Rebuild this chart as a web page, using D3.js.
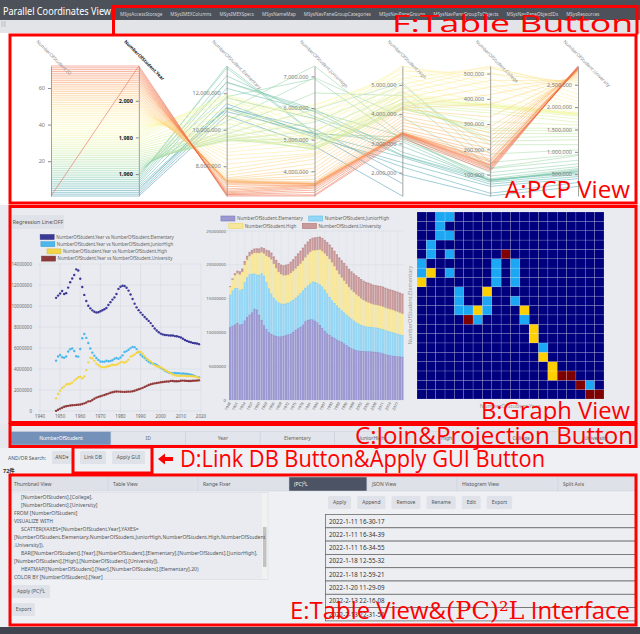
<!DOCTYPE html>
<html>
<head>
<meta charset="utf-8">
<title>Parallel Coordinates View</title>
<script src="https://cdn.jsdelivr.net/npm/d3@7/dist/d3.min.js"></script>
<style>
  body { margin: 0; background: #eef0f4; }
  svg { display: block; font-family: "Noto Sans", "Noto Sans CJK JP", sans-serif; }
</style>
</head>
<body>
<svg id="view" width="640" height="634"></svg>
<script>
// NumberOfStudent table, one row per year (student counts in thousands)
var ids = [1,2,3,4,5,6,7,8,9,10,11,12,13,14,15,16,17,18,19,20,21,22,23,24,25,26,27,28,29,30,31,32,33,34,35,36,
  37,38,39,40,41,42,43,44,45,46,47,48,49,50,51,52,53,54,55,56,57,58,59,60,61,62,63,64,65,66,67,68,69,70,71,72];
var years = [1948,1949,1950,1951,1952,1953,1954,1955,1956,1957,1958,1959,1960,1961,1962,1963,1964,1965,1966,1967,
  1968,1969,1970,1971,1972,1973,1974,1975,1976,1977,1978,1979,1980,1981,1982,1983,1984,1985,1986,1987,
  1988,1989,1990,1991,1992,1993,1994,1995,1996,1997,1998,1999,2000,2001,2002,2003,2004,2005,2006,2007,
  2008,2009,2010,2011,2012,2013,2014,2015,2016,2017,2018,2019];
var elementary = [10775,10992,11191,11423,11148,11225,11751,12267,12616,12956,13492,13374,12591,11811,11057,10471,10030,9776,9584,9452,
  9383,9404,9493,9596,9696,9816,10089,10365,10610,10819,11146,11630,11827,11925,11901,11739,11465,11095,10665,10226,
  9873,9607,9373,9157,8947,8769,8583,8370,8105,7855,7664,7500,7366,7297,7239,7227,7201,7197,7188,7133,
  7122,7064,6993,6887,6765,6677,6600,6543,6484,6449,6428,6369];
var juniorHigh = [4793,5186,5333,5129,5076,5187,5664,5884,5963,5719,5210,5180,5900,6924,7328,6964,6476,5957,5556,5271,
  5044,4865,4717,4694,4688,4779,4735,4762,4833,4977,5048,4966,5094,5300,5623,5706,5828,5991,6106,6081,
  5897,5620,5369,5189,5037,4850,4681,4570,4528,4481,4381,4244,4104,3992,3863,3748,3664,3626,3602,3615,
  3592,3600,3559,3574,3553,3537,3504,3465,3406,3333,3252,3218];
var high = [1203,1624,1935,2194,2343,2528,2578,2592,2703,2898,3057,3216,3239,3119,3282,3896,4634,5074,4997,4776,
  4516,4352,4232,4179,4158,4210,4269,4333,4387,4381,4415,4511,4622,4682,4601,4717,4896,5178,5259,5375,
  5533,5644,5623,5455,5218,5010,4862,4725,4547,4371,4258,4212,4165,4062,3929,3810,3719,3605,3495,3407,
  3367,3347,3369,3349,3356,3320,3334,3319,3309,3280,3236,3168];
var college = [null,null,15,26,53,62,70,78,80,77,73,76,83,94,108,123,126,148,181,218,
  232,246,263,275,283,309,344,354,365,374,380,375,371,372,366,379,388,371,408,437,
  450,462,479,504,525,530,521,499,473,447,417,378,328,289,267,250,234,219,202,187,
  173,161,155,150,142,138,137,133,128,124,119,113];
var university = [12,125,225,313,399,447,492,523,547,564,580,601,626,670,730,812,917,938,1044,1160,
  1270,1345,1407,1469,1530,1597,1659,1734,1791,1839,1862,1850,1835,1822,1817,1835,1843,1849,1879,1934,
  1994,2067,2133,2205,2293,2389,2481,2547,2597,2634,2668,2701,2740,2766,2786,2804,2809,2865,2859,2829,
  2836,2845,2887,2893,2876,2868,2855,2860,2874,2891,2909,2919];

var dims = ["ID", "Year", "Elementary", "JuniorHigh", "High", "College", "University"];
var idTicks = [20, 40, 60];
var yearTicks = [1960, 1980, 2000];
var elementaryTicks = [8000000, 10000000, 12000000];
var juniorHighTicks = [4000000, 5000000, 6000000, 7000000];
var highTicks = [2000000, 3000000, 4000000, 5000000];
var collegeTicks = [100000, 200000, 300000, 400000, 500000];
var universityTicks = [500000, 1000000, 1500000, 2000000, 2500000];
var scatterXTicks = [1940, 1950, 1960, 1970, 1980, 1990, 2000, 2010, 2020];
var scatterYTicks = [0, 2000000, 4000000, 6000000, 8000000, 10000000, 12000000, 14000000];
var barYTicks = [0, 5000000, 10000000, 15000000, 20000000, 25000000];

var tableNames = ["MSysAccessStorage", "MSysIMEXColumns", "MSysIMEXSpecs", "MSysNameMap", "MSysNavPaneGroupCategories",
  "MSysNavPaneGroups", "MSysNavPaneGroupToObjects", "MSysNavPaneObjectIDs", "MSysResources"];
var joinNames = ["NumberOfStudent", "ID", "Year", "Elementary", "JuniorHigh", "High", "College", "University"];
var tabNames = ["Thumbnail View", "Table View", "Range Fixer", "(PC)²L", "JSON View", "Histogram View", "Split Axis"];
var queryLines = [
  "    [NumberOfStudent].[College],",
  "    [NumberOfStudent].[University]",
  "FROM [NumberOfStudent]",
  "VISUALIZE WITH",
  "    SCATTER(XAXES=[NumberOfStudent.Year],YAXES=",
  "[NumberOfStudent.Elementary,NumberOfStudent.JuniorHigh,NumberOfStudent.High,NumberOfStudent",
  ".University]),",
  "    BAR([NumberOfStudent].[Year],[NumberOfStudent].[Elementary],[NumberOfStudent].[JuniorHigh],",
  "[NumberOfStudent].[High],[NumberOfStudent].[University]),",
  "    HEATMAP([NumberOfStudent].[Year],[NumberOfStudent].[Elementary],20)",
  "COLOR BY [NumberOfStudent].[Year]"
];
var actionNames = ["Apply", "Append", "Remove", "Rename", "Edit", "Export"];
var savedQueries = ["2022-1-11 16-30-17", "2022-1-11 16-34-39", "2022-1-11 16-34-55", "2022-1-18 12-55-32",
  "2022-1-18 12-59-21", "2022-1-20 11-29-09", "2022-2-13 22-16-08", "2022-2-13 22-31-56"];

var rows = years.map(function(y, i) {
  return {
    ID: ids[i], Year: y,
    Elementary: elementary[i] * 1000,
    JuniorHigh: juniorHigh[i] * 1000,
    High: high[i] * 1000,
    College: college[i] == null ? null : college[i] * 1000,
    University: university[i] * 1000
  };
});

var svg = d3.select("#view");
var red = "#ff0000";

function box(g, x, y, w, h, fill) {
  return g.append("rect").attr("x", x).attr("y", y).attr("width", w).attr("height", h).attr("fill", fill);
}
function label(g, x, y, txt, size, fill) {
  return g.append("text").attr("x", x).attr("y", y).attr("font-size", size).attr("fill", fill).text(txt);
}
function button(g, x, y, w, h, txt, size) {
  box(g, x, y, w, h, "#dfe2e9").attr("rx", 1.5);
  label(g, x + w / 2, y + h / 2 + size * 0.35, txt, size, "#555").attr("text-anchor", "middle");
}

// ---- page background
box(svg, 0, 0, 640, 634, "#eef0f4");
box(svg, 0, 0, 640, 20, "#4d5159");
box(svg, 0, 20, 640, 13, "#e3e4e7");
box(svg, 1, 21, 5, 6, "#d0d2d6");
box(svg, 0, 33, 640, 172, "#ffffff");
box(svg, 0, 205, 640, 219, "#e9ebf0");
box(svg, 0, 424, 640, 24, "#e6e8ee");
box(svg, 0, 627, 640, 7, "#3f444e");

label(svg, 3, 15, "Parallel Coordinates View", 11, "#ffffff")
  .attr("textLength", 108).attr("lengthAdjust", "spacingAndGlyphs");

var tx = 120;
tableNames.forEach(function(n) {
  var t = label(svg, tx, 16, n, 4.6, "#d6d8dc");
  tx += t.node().getComputedTextLength() + 8;
});

// ---- A: parallel coordinates
var pcp = svg.append("g");
var px = d3.scalePoint().domain(dims).range([51, 578]);
var py = {};
dims.forEach(function(d) {
  py[d] = d3.scaleLinear().domain(d3.extent(rows, function(r) { return r[d]; })).range([196, 66]);
});
var colorT = d3.scaleLinear().domain(d3.extent(years)).range([0.88, 0.18]);
function yearColor(y) { return d3.interpolateSpectral(colorT(y)); }

var pcpLine = d3.line()
  .defined(function(p) { return p[1] != null; })
  .x(function(p) { return px(p[0]); })
  .y(function(p) { return py[p[0]](p[1]); });

pcp.selectAll("path.pl").data(rows).join("path")
  .attr("class", "pl")
  .attr("d", function(r) { return pcpLine(dims.map(function(d) { return [d, r[d]]; })); })
  .attr("fill", "none")
  .attr("stroke", function(r) { return yearColor(r.Year); })
  .attr("stroke-opacity", 0.65)
  .attr("stroke-width", 0.8);

pcp.append("line")
  .attr("x1", px("ID")).attr("y1", py.ID(ids[0]))
  .attr("x2", px("Year")).attr("y2", py.Year(years[years.length - 1]))
  .attr("stroke", yearColor(years[years.length - 1])).attr("stroke-opacity", 0.7).attr("stroke-width", 0.8);

var dimTicks = [idTicks, yearTicks, elementaryTicks, juniorHighTicks, highTicks, collegeTicks, universityTicks];
dims.forEach(function(d, i) {
  var isYear = d == "Year";
  var g = pcp.append("g").attr("transform", "translate(" + px(d) + ",0)")
    .call(d3.axisLeft(py[d]).tickValues(dimTicks[i]).tickSize(3).tickSizeOuter(0).tickFormat(d3.format(",")));
  g.attr("font-family", null).attr("font-size", 5.5);
  g.select(".domain").attr("stroke", "#8c8c8c").attr("stroke-width", 0.8);
  g.selectAll(".tick line").attr("stroke", "#8c8c8c");
  g.selectAll(".tick text").attr("fill", isYear ? "#222" : "#7a7a7a").attr("font-weight", isYear ? "bold" : null);
  g.append("text")
    .attr("transform", "translate(-15,42) rotate(45)")
    .attr("font-size", 4.7)
    .attr("fill", isYear ? "#222" : "#888")
    .attr("font-weight", isYear ? "bold" : null)
    .attr("text-anchor", "start")
    .text("NumberOfStudent." + d);
});

// ---- B: scatter
var series = ["Elementary", "JuniorHigh", "High", "University"];
var scatterColors = ["#3c3895", "#4bb7ea", "#f3d54a", "#8e3a3a"];
var sg = svg.append("g");
var sx = d3.scaleLinear().domain([1940, 2020]).range([40, 201]);
var sy = d3.scaleLinear().domain([0, 14000000]).range([411, 264]);

button(sg, 12, 215, 52, 14, "Regression Line:OFF", 5.3);

sg.selectAll("line.gx").data(scatterXTicks).join("line")
  .attr("x1", sx).attr("x2", sx).attr("y1", sy(14000000)).attr("y2", sy(0) + 2)
  .attr("stroke", "#d7dae2").attr("stroke-width", 0.6);
sg.selectAll("line.gy").data(scatterYTicks).join("line")
  .attr("x1", sx(1940) - 2).attr("x2", sx(2020)).attr("y1", sy).attr("y2", sy)
  .attr("stroke", "#d7dae2").attr("stroke-width", 0.6);
sg.selectAll("text.tx").data(scatterXTicks).join("text")
  .attr("x", sx).attr("y", sy(0) + 7).attr("text-anchor", "middle")
  .attr("font-size", 4.5).attr("fill", "#666").text(function(d) { return d; });
sg.selectAll("text.ty").data(scatterYTicks).join("text")
  .attr("x", sx(1940) - 8).attr("y", function(d) { return sy(d) + 1.5; }).attr("text-anchor", "end")
  .attr("font-size", 4.5).attr("fill", "#666").text(function(d) { return d; });

series.forEach(function(s, k) {
  sg.selectAll("circle.s" + k).data(rows).join("circle")
    .attr("cx", function(r) { return sx(r.Year); })
    .attr("cy", function(r) { return sy(r[s]); })
    .attr("r", 1.2)
    .attr("fill", scatterColors[k]);
  var ly = 237 + k * 7.2;
  var lt = label(sg, 0, ly + 1.7, "NumberOfStudent.Year vs NumberOfStudent." + s, 4.4, "#666");
  var tw = lt.node().getComputedTextLength();
  var left = 107 - (tw + 16) / 2;
  lt.attr("x", left + 16);
  box(sg, left, ly - 2.5, 14, 5, scatterColors[k]).attr("stroke", d3.color(scatterColors[k]).darker(0.4)).attr("stroke-width", 0.5);
});

// ---- B: stacked bars
var barFill = ["#9c98d1", "#94d6f4", "#f6e79c", "#c89a9b"];
var barStroke = ["#7d78c0", "#62c2ee", "#f0d75c", "#b07476"];
var bg = svg.append("g");
var bx = d3.scaleBand().domain(years).range([229, 403.5]).paddingInner(0.1);
var by = d3.scaleLinear().domain([0, 25000000]).range([400, 231]);
var labelYears = years.filter(function(y, i) { return i % 3 == 0; });

bg.selectAll("line.gy").data(barYTicks).join("line")
  .attr("x1", bx.range()[0] - 2).attr("x2", bx.range()[1]).attr("y1", by).attr("y2", by)
  .attr("stroke", "#d7dae2").attr("stroke-width", 0.6);
bg.selectAll("line.gx").data(labelYears).join("line")
  .attr("x1", function(y) { return bx(y) + bx.bandwidth() / 2; })
  .attr("x2", function(y) { return bx(y) + bx.bandwidth() / 2; })
  .attr("y1", by(25000000)).attr("y2", by(0) + 2)
  .attr("stroke", "#dfe1e8").attr("stroke-width", 0.5);
bg.selectAll("text.ty").data(barYTicks).join("text")
  .attr("x", bx.range()[0] - 3).attr("y", function(d) { return by(d) + 1.5; }).attr("text-anchor", "end")
  .attr("font-size", 4.3).attr("fill", "#666").text(function(d) { return d; });

var stacked = d3.stack().keys(series)(rows);
stacked.forEach(function(layer, k) {
  bg.selectAll("rect.b" + k).data(layer).join("rect")
    .attr("x", function(p) { return bx(p.data.Year); })
    .attr("width", bx.bandwidth())
    .attr("y", function(p) { return by(p[1]); })
    .attr("height", function(p) { return by(p[0]) - by(p[1]); })
    .attr("fill", barFill[k]);
  bg.selectAll("line.bt" + k).data(layer).join("line")
    .attr("x1", function(p) { return bx(p.data.Year); })
    .attr("x2", function(p) { return bx(p.data.Year) + bx.bandwidth(); })
    .attr("y1", function(p) { return by(p[1]); }).attr("y2", function(p) { return by(p[1]); })
    .attr("stroke", barStroke[k]).attr("stroke-width", 0.6);
});
bg.selectAll("text.tx").data(labelYears).join("text")
  .attr("transform", function(y) { return "translate(" + (bx(y) + bx.bandwidth() / 2 + 1) + "," + (by(0) + 3) + ") rotate(-62)"; })
  .attr("text-anchor", "end").attr("font-size", 3.8).attr("fill", "#666").text(function(y) { return y; });

var legendRows = [[0, 1], [2, 3]];
legendRows.forEach(function(items, r) {
  var lg = bg.append("g");
  var cx = 0;
  items.forEach(function(k) {
    box(lg, cx, 0, 14, 5, barFill[k]).attr("stroke", barStroke[k]).attr("stroke-width", 0.6);
    var t = label(lg, cx + 16, 4.2, "NumberOfStudent." + series[k], 4.6, "#666");
    cx += 16 + t.node().getComputedTextLength() + 6;
  });
  lg.attr("transform", "translate(" + (305 - (cx - 6) / 2) + "," + (216 + r * 7.5) + ")");
});

// ---- B: heatmap
var nBins = 20;
var binIdx = d3.range(nBins);
var yearBin = d3.scaleLinear().domain(d3.extent(years)).range([0, nBins]);
var elemBin = d3.scaleLinear().domain(d3.extent(elementary)).range([0, nBins]);
var counts = d3.rollup(rows, function(v) { return v.length; },
  function(r) { return Math.min(nBins - 1, Math.floor(yearBin(r.Year))); },
  function(r) { return Math.min(nBins - 1, Math.floor(elemBin(r.Elementary / 1000))); });
var cells = [];
binIdx.forEach(function(i) {
  binIdx.forEach(function(j) {
    var c = counts.get(i) && counts.get(i).get(j) || 0;
    cells.push({ i: i, j: j, c: c });
  });
});
var hx = d3.scaleBand().domain(binIdx).range([417, 604]);
var hy = d3.scaleBand().domain(binIdx).range([399, 212]);
var heatColor = d3.scaleThreshold().domain([1, 2, 3]).range(["#00007f", "#1ba7f3", "#ffd000", "#7f0000"]);
var hg = svg.append("g");
hg.selectAll("rect").data(cells).join("rect")
  .attr("x", function(d) { return hx(d.i); }).attr("y", function(d) { return hy(d.j); })
  .attr("width", hx.bandwidth()).attr("height", hy.bandwidth())
  .attr("fill", function(d) { return heatColor(d.c); })
  .attr("stroke", "#ffffff").attr("stroke-opacity", 0.3).attr("stroke-width", 0.5);
label(hg, 0, 0, "NumberOfStudent.Elementary", 5.5, "#999")
  .attr("transform", "translate(412,305) rotate(-90)").attr("text-anchor", "middle");
label(hg, 510, 408, "NumberOfStudent.Year", 5.5, "#999").attr("text-anchor", "middle");

// ---- C: join & projection buttons
var jg = svg.append("g");
var jx = d3.scaleBand().domain(joinNames.slice(1)).range([111, 633]);
joinNames.forEach(function(n, i) {
  var x0 = i == 0 ? 11 : jx(n), w = i == 0 ? 100 : jx.bandwidth();
  box(jg, x0, 431.5, w, 13.5, i == 0 ? "#7391b9" : "#e2e5ec").attr("stroke", "#c9cdd6").attr("stroke-width", 0.5);
  label(jg, x0 + w / 2, 440, n, 5, i == 0 ? "#ffffff" : "#666").attr("text-anchor", "middle");
});

// ---- D: search / link db row
var dg = svg.append("g");
label(dg, 8, 460, "AND/OR Search:", 5, "#555");
button(dg, 52, 451, 20, 13, "AND▾", 5);
button(dg, 80, 451, 26, 13, "Link DB", 5);
button(dg, 112, 451, 33, 13, "Apply GUI", 5);
label(dg, 3, 473, "72件", 5.5, "#333").attr("font-weight", "bold");

// ---- E: table view & (PC)²L interface
var eg = svg.append("g");
var tabEdges = [9, 108, 198, 289, 367, 457, 558, 636];
tabNames.forEach(function(n, i) {
  var sel = i == 3;
  box(eg, tabEdges[i], 477, tabEdges[i + 1] - tabEdges[i], 14, sel ? "#4b5364" : "#dee1e8")
    .attr("stroke", "#cdd1da").attr("stroke-width", 0.5);
  label(eg, tabEdges[i] + 5, 486, n, 5, sel ? "#ffffff" : "#555");
});
box(eg, 12, 492.5, 256, 87, "#e9ebf0").attr("stroke", "#d4d7de").attr("stroke-width", 0.5);
box(eg, 262, 493, 5.5, 86, "#f1f1f1");
box(eg, 263, 527, 3.5, 40, "#c2c2c2");
queryLines.forEach(function(l, i) {
  var indent = l.indexOf("    ") == 0;
  label(eg, indent ? 21 : 14, 498.5 + i * 8, l.trim(), 5.1, "#555");
});
button(eg, 12, 585, 38, 13, "Apply (PC)²L", 5);
button(eg, 12, 603, 23, 13, "Export", 5);

var ax = 328;
actionNames.forEach(function(n) {
  var t = label(eg, 0, 0, n, 5, "#555");
  var w = t.node().getComputedTextLength() + 10;
  t.remove();
  button(eg, ax, 496, w, 13, n, 5);
  ax += w + 6;
});
eg.append("clipPath").attr("id", "listClip").append("rect").attr("x", 320).attr("y", 510).attr("width", 320).attr("height", 114);
var lg2 = eg.append("g").attr("clip-path", "url(#listClip)");
savedQueries.forEach(function(q, i) {
  box(lg2, 325.5, 514.5 + i * 13.3, 310, 13.3, "#eceef2").attr("stroke", "#6b6b6b").attr("stroke-width", 0.8);
  label(lg2, 329, 523.5 + i * 13.3, q, 6.2, "#333");
});

// ---- red annotation boxes
var rg = svg.append("g").attr("fill", "none").attr("stroke", red).attr("stroke-width", 3);
rg.append("path").attr("d", "M113.5,34.5 V6.5 H637 V34.5");
rg.append("rect").attr("x", 10).attr("y", 35).attr("width", 626).attr("height", 168);
rg.append("rect").attr("x", 10).attr("y", 206.5).attr("width", 626).attr("height", 216);
rg.append("rect").attr("x", 10).attr("y", 424.5).attr("width", 626).attr("height", 22);
rg.append("rect").attr("x", 73).attr("y", 447).attr("width", 79).attr("height", 26);
rg.append("rect").attr("x", 10).attr("y", 475).attr("width", 626).attr("height", 150);

var notes = [
  ["F:Table Button", 392, 32, 241],
  ["A:PCP View", 505, 198, 125],
  ["B:Graph View", 481, 419, 149],
  ["C:Join&Projection Button", 355, 444, 278],
  ["D:Link DB Button&Apply GUI Button", 180, 467, 365]
];
notes.forEach(function(n) {
  svg.append("text").attr("x", n[1]).attr("y", n[2]).attr("font-size", 24).attr("fill", red)
    .attr("font-family", "'Open Sans', 'Noto Sans', sans-serif")
    .attr("textLength", n[3]).attr("lengthAdjust", "spacingAndGlyphs").text(n[0]);
});
var eNote = svg.append("text").attr("x", 290).attr("y", 619).attr("font-size", 24).attr("fill", red)
  .attr("font-family", "'Open Sans', 'Noto Sans', sans-serif")
  .attr("textLength", 340).attr("lengthAdjust", "spacingAndGlyphs");
eNote.append("tspan").text("E:Table View&");
eNote.append("tspan").attr("font-family", "'DejaVu Serif', 'Liberation Serif', serif").text("(PC)²L");
eNote.append("tspan").text(" Interface");
svg.append("path").attr("fill", red)
  .attr("d", "M158,459 L165,453.5 L165,457 L173,457 L173,461 L165,461 L165,464.5 Z");
</script>
</body>
</html>
